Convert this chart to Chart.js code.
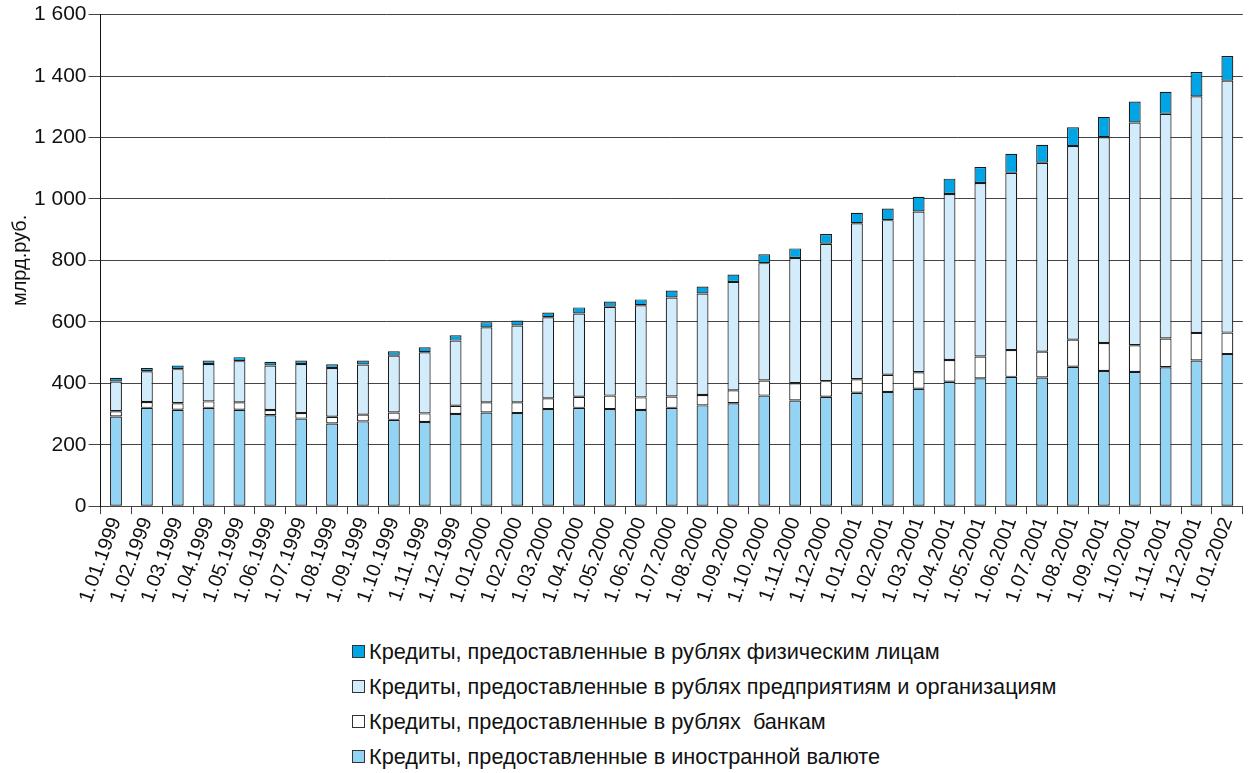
<!DOCTYPE html>
<html>
<head>
<meta charset="utf-8">
<script src="https://cdn.jsdelivr.net/npm/chart.js@4"></script>
<style>
  html, body { margin:0; padding:0; background:#fff; }
  #wrap { position:relative; width:1250px; height:773px; }
  #chartBox { position:absolute; left:0; top:0; width:1250px; height:606px; }
  #legend { position:absolute; left:352px; top:634px; font-family:"Liberation Sans", Arial, sans-serif; font-size:21.7px; color:#111; }
  #legend div { height:35px; display:flex; align-items:center; white-space:pre; }
  #legend span.box { display:inline-block; width:13px; height:13px; border:1px solid #333; margin-right:4px; box-sizing:border-box; }
</style>
</head>
<body>
<div id="wrap">
  <div id="chartBox"><canvas id="c"></canvas></div>
  <div id="legend"></div>
</div>
<script>
const categories = ["1.01.1999","1.02.1999","1.03.1999","1.04.1999","1.05.1999","1.06.1999","1.07.1999","1.08.1999","1.09.1999","1.10.1999","1.11.1999","1.12.1999",
  "1.01.2000","1.02.2000","1.03.2000","1.04.2000","1.05.2000","1.06.2000","1.07.2000","1.08.2000","1.09.2000","1.10.2000","1.11.2000","1.12.2000",
  "1.01.2001","1.02.2001","1.03.2001","1.04.2001","1.05.2001","1.06.2001","1.07.2001","1.08.2001","1.09.2001","1.10.2001","1.11.2001","1.12.2001",
  "1.01.2002"];
const foreignCurrency = [292,320,314,320,314,296,285,269,276,281,274,300,305,303,316,320,316,313,320,328,335,360,344,356,369,372,382,405,416,421,419,454,440,437,452,474,495];
const banksRub       = [17,19,21,21,24,17,18,22,22,24,28,27,33,35,35,36,44,41,37,34,42,49,56,51,44,56,54,71,71,87,84,88,91,87,94,90,70];
const enterprisesRub = [97,100,111,122,134,145,160,159,163,185,199,212,244,250,264,271,289,300,322,330,353,382,408,447,508,503,523,540,565,577,615,630,670,725,731,770,820];
const individualsRub = [12,11,12,11,13,12,11,12,13,14,16,17,17,16,15,20,17,19,23,23,24,29,31,32,34,38,48,50,52,62,58,61,66,68,72,79,80];
const seriesNames = [
  "Кредиты, предоставленные в иностранной валюте",
  "Кредиты, предоставленные в рублях  банкам",
  "Кредиты, предоставленные в рублях предприятиям и организациям",
  "Кредиты, предоставленные в рублях физическим лицам"
];
const yTicks = [0,200,400,600,800,1000,1200,1400,1600];
const colors = ["#93D3F4", "#FFFFFF", "#D3ECFC", "#00A5E5"];

const seriesValues = [foreignCurrency, banksRub, enterprisesRub, individualsRub];
const datasets = seriesValues.map((vals, i) => ({
  label: seriesNames[i],
  data: vals,
  backgroundColor: colors[i],
  borderColor: "#1a1a1a",
  borderWidth: 1.2,
  borderSkipped: false,
  barPercentage: 0.77,
  categoryPercentage: 0.5,
  stack: "s"
}));

const fontFam = "'Liberation Sans', Arial, sans-serif";

new Chart(document.getElementById("c"), {
  type: "bar",
  data: { labels: categories, datasets },
  options: {
    responsive: true,
    maintainAspectRatio: false,
    animation: false,
    layout: { padding: { top: 13, right: 7, left: 8, bottom: 0 } },
    plugins: { legend: { display: false }, tooltip: { enabled: false } },
    scales: {
      x: {
        stacked: true,
        grid: { display: true, drawOnChartArea: false, offset: true, color: "#444", tickLength: 8 },
        border: { color: "#444", width: 1 },
        ticks: { color: "#111", font: { family: fontFam, size: 20 }, minRotation: 70, maxRotation: 70, autoSkip: false, padding: 0 }
      },
      y: {
        stacked: true,
        min: 0, max: 1600,
        afterBuildTicks: (axis) => { axis.ticks = yTicks.map(v => ({ value: v })); },
        grid: { color: "#444", lineWidth: 1, tickLength: 12 },
        border: { color: "#111", width: 1 },
        ticks: {
          color: "#111", font: { family: fontFam, size: 21 }, padding: 2,
          callback: (v) => String(v).replace(/\B(?=(\d{3})+(?!\d))/g, " ")
        },
        title: { display: true, text: "млрд.руб.", color: "#111", font: { family: fontFam, size: 20 }, padding: { top: 0, bottom: 0 } }
      }
    }
  }
});

const legend = document.getElementById("legend");
for (let i = seriesNames.length - 1; i >= 0; i--) {
  const row = document.createElement("div");
  const box = document.createElement("span");
  box.className = "box";
  box.style.background = colors[i];
  row.appendChild(box);
  row.appendChild(document.createTextNode(seriesNames[i]));
  legend.appendChild(row);
}
</script>
</body>
</html>
